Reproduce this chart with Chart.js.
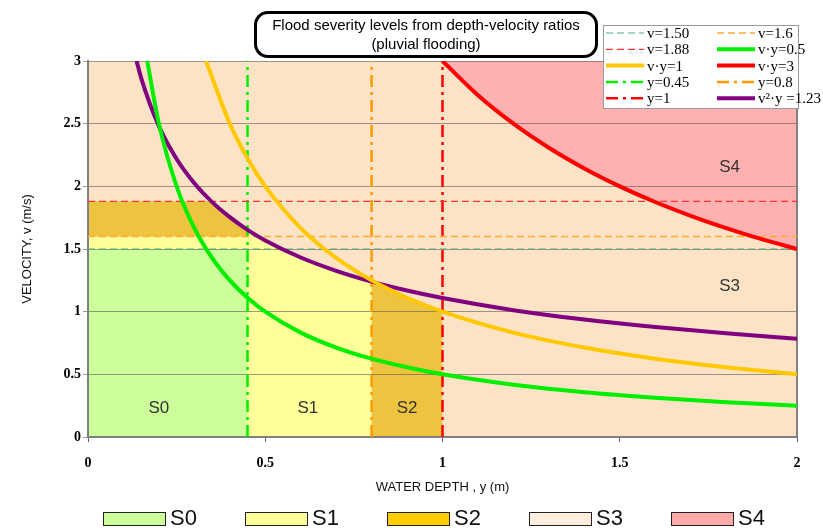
<!DOCTYPE html>
<html>
<head>
<meta charset="utf-8">
<script src="https://cdn.jsdelivr.net/npm/chart.js"></script>
<style>
  body { margin: 0; background: #fff; }
  #wrap { position: relative; width: 823px; height: 532px; }
  #title {
    position: absolute; left: 254px; top: 11px; width: 338px; height: 40px;
    border: 3px solid #000; border-radius: 14px; background: #fff;
    font: 15px 'Liberation Sans', Arial, sans-serif; color: #000;
    text-align: center; line-height: 19px; padding-top: 1px;
  }
  .key { position: absolute; top: 510px; height: 20px; font: 22px 'Liberation Sans', Arial, sans-serif; color: #111; }
  .key span.box { position: absolute; left: 0; top: 2px; width: 61px; height: 12px; border: 1.5px solid #222; }
  .key span.txt { position: absolute; left: 67px; top: -5px; line-height: 26px; }
</style>
</head>
<body>
<div id="wrap">
  <canvas id="myChart" width="823" height="532"></canvas>
  <div id="title">Flood severity levels from depth-velocity ratios<br>(pluvial flooding)</div>
</div>
<script>
// curves (depth y in m, velocity v in m/s)
const depthVy05 = [0.167, 0.2, 0.25, 0.3, 0.35, 0.4, 0.45, 0.5, 0.6, 0.7, 0.8, 0.9, 1.0, 1.2, 1.4, 1.6, 1.8, 2.0];
const velVy05   = [3.0, 2.5, 2.0, 1.667, 1.429, 1.25, 1.111, 1.0, 0.833, 0.714, 0.625, 0.556, 0.5, 0.417, 0.357, 0.313, 0.278, 0.25];
const depthVy1  = [0.333, 0.4, 0.45, 0.5, 0.6, 0.7, 0.8, 0.9, 1.0, 1.2, 1.4, 1.6, 1.8, 2.0];
const velVy1    = [3.0, 2.5, 2.222, 2.0, 1.667, 1.429, 1.25, 1.111, 1.0, 0.833, 0.714, 0.625, 0.556, 0.5];
const depthVy3  = [1.0, 1.1, 1.2, 1.3, 1.4, 1.5, 1.6, 1.7, 1.8, 1.9, 2.0];
const velVy3    = [3.0, 2.727, 2.5, 2.308, 2.143, 2.0, 1.875, 1.765, 1.667, 1.579, 1.5];
const depthV2y  = [0.137, 0.15, 0.2, 0.25, 0.3, 0.348, 0.4, 0.45, 0.5, 0.6, 0.7, 0.8, 0.9, 1.0, 1.2, 1.4, 1.6, 1.8, 2.0];
const velV2y    = [3.0, 2.864, 2.48, 2.218, 2.025, 1.88, 1.754, 1.653, 1.568, 1.432, 1.326, 1.24, 1.169, 1.109, 1.012, 0.937, 0.877, 0.827, 0.784];

// threshold lines
const velLimits   = [1.5, 1.6, 1.88];
const depthLimits = [0.45, 0.8, 1.0];

// region outlines
const s0Depth = [0, 0.45];
const s0Vel   = [1.5, 1.5];
const s1Depth = [0, 0.45, 0.45, 0.5, 0.6, 0.7, 0.8];
const s1Vel   = [1.6, 1.6, 1.653, 1.568, 1.432, 1.326, 1.24];
const s2BandDepth = [0, 0.348, 0.4, 0.45, 0.45];
const s2BandVel   = [1.88, 1.88, 1.754, 1.653, 1.6];
const s2LowDepth  = [0.8, 0.9, 1.0];
const s2LowVel    = [1.25, 1.111, 1.0];
const s3Depth = [0, 2];
const s3Vel   = [3, 3];

const regionNames  = ['S0', 'S1', 'S2', 'S3', 'S4'];
const regionFill   = ['#CCFF99', '#FFFF99', '#EDC33F', '#FDE3C5', '#FFB0B0'];
const regionKey    = ['#CCFF99', '#FFFF99', '#FFCC00', '#FFEEDD', '#FFAAAA'];
const regionLabelX = [0.2, 0.62, 0.9, 1.81, 1.81];
const regionLabelY = [0.23, 0.23, 0.23, 1.2, 2.15];

const pts = (xs, ys) => xs.map((x, i) => ({ x: x, y: ys[i] }));
const hLine = v => [{ x: 0, y: v }, { x: 2, y: v }];
const vLine = d => [{ x: d, y: 0 }, { x: d, y: 3 }];

const dashed = [7, 4];
const dashDot = [12, 5, 3, 5];

const curve = (label, data, color) => ({
  label: label, data: data, borderColor: color, borderWidth: 4, fill: false,
  cubicInterpolationMode: 'monotone', pointRadius: 0, order: 0
});
const straight = (label, data, color, w, dash) => ({
  label: label, data: data, borderColor: color, borderWidth: w, borderDash: dash,
  fill: false, pointRadius: 0, order: 1
});
const region = (data, color, fill, order) => ({
  data: data, borderWidth: 0, borderColor: 'rgba(0,0,0,0)', backgroundColor: color,
  fill: fill, pointRadius: 0, order: order
});

const redCurve = curve('v·y=3', pts(depthVy3, velVy3), '#FF0000');
redCurve.fill = 'end';
redCurve.backgroundColor = regionFill[4];

const datasets = [
  straight('v=1.50', hLine(velLimits[0]), '#4FAE80', 1.2, dashed),
  straight('v=1.6', hLine(velLimits[1]), '#FFAA33', 1.5, dashed),
  straight('v=1.88', hLine(velLimits[2]), '#FF3333', 1.2, dashed),
  curve('v·y=0.5', pts(depthVy05, velVy05), '#00EE00'),
  curve('v·y=1', pts(depthVy1, velVy1), '#FFC800'),
  redCurve,
  straight('y=0.45', vLine(depthLimits[0]), '#00EE00', 2.5, dashDot),
  straight('y=0.8', vLine(depthLimits[1]), '#FF9900', 2.5, dashDot),
  straight('y=1', vLine(depthLimits[2]), '#FF0000', 2.5, dashDot),
  curve('v²·y =1.23', pts(depthV2y, velV2y), '#800080'),
  region(pts(s0Depth, s0Vel), regionFill[0], 'origin', 4),
  region(pts(s2BandDepth, s2BandVel), regionFill[2], { value: 1.6 }, 4),
  region(pts(s2LowDepth, s2LowVel), regionFill[2], 'origin', 4),
  region(pts(s1Depth, s1Vel), regionFill[1], 'origin', 5),
  region(pts(s3Depth, s3Vel), regionFill[3], 'origin', 10)
];

const overlay = {
  id: 'overlay',
  afterDatasetsDraw(chart) {
    const ctx = chart.ctx, xs = chart.scales.x, ys = chart.scales.y;
    ctx.save();
    ctx.font = '17px "Liberation Sans", Arial, sans-serif';
    ctx.fillStyle = '#333';
    ctx.textAlign = 'center';
    ctx.textBaseline = 'middle';
    regionNames.forEach((n, i) => {
      ctx.fillText(n, xs.getPixelForValue(regionLabelX[i]), ys.getPixelForValue(regionLabelY[i]));
    });
    ctx.restore();
  },
  afterDraw(chart) {
    const ctx = chart.ctx;
    const items = chart.data.datasets.filter(d => d.label);
    ctx.save();
    ctx.fillStyle = '#fff';
    ctx.fillRect(603, 25, 195, 83);
    ctx.strokeStyle = '#999';
    ctx.lineWidth = 1;
    ctx.strokeRect(603.5, 25.5, 195, 83);
    ctx.font = '15px "Liberation Serif", "Times New Roman", serif';
    ctx.textBaseline = 'middle';
    items.forEach((d, i) => {
      const x0 = i % 2 ? 717 : 606;
      const y = 33 + Math.floor(i / 2) * 16.3;
      ctx.strokeStyle = d.borderColor;
      ctx.lineWidth = d.borderWidth;
      ctx.setLineDash(d.borderDash || []);
      ctx.beginPath();
      ctx.moveTo(x0, y);
      ctx.lineTo(x0 + 38, y);
      ctx.stroke();
      ctx.setLineDash([]);
      ctx.fillStyle = '#000';
      ctx.fillText(d.label, x0 + 41, y + 1);
    });
    ctx.restore();
  }
};

const tickFont = { family: '"Liberation Serif", "Times New Roman", serif', size: 14, weight: 'bold' };
const titleFont = { family: '"Liberation Sans", Arial, sans-serif', size: 13 };
const plainNum = v => String(Math.round(v * 10) / 10);

const myChart = new Chart(document.getElementById('myChart'), {
  type: 'line',
  data: { datasets: datasets },
  options: {
    responsive: false,
    animation: false,
    events: [],
    layout: { padding: { left: 0, top: 61, right: 26, bottom: 0 } },
    plugins: {
      legend: { display: false },
      tooltip: { enabled: false },
      filler: { drawTime: 'beforeDraw' }
    },
    scales: {
      x: {
        type: 'linear', min: 0, max: 2,
        ticks: { stepSize: 0.5, color: '#000', font: tickFont, padding: 13, maxRotation: 0, callback: plainNum },
        grid: { drawOnChartArea: false, drawTicks: true, tickLength: 5, color: '#666' },
        border: { color: '#808080', width: 2 },
        title: { display: true, text: 'WATER DEPTH , y (m)', color: '#111', font: titleFont, padding: { top: 0, bottom: 37 } },
        afterFit: s => { s.height = 95; }
      },
      y: {
        type: 'linear', min: 0, max: 3,
        ticks: { stepSize: 0.5, color: '#000', font: tickFont, padding: 2, callback: plainNum },
        grid: { color: 'rgba(90,90,90,0.6)', lineWidth: 1, tickLength: 5 },
        border: { color: '#808080', width: 2 },
        title: { display: true, text: 'VELOCITY, v (m/s)', color: '#111', font: titleFont, padding: { top: 20, bottom: 0 } },
        afterFit: s => { s.width = 88; }
      },
      yR: {
        type: 'linear', position: 'right', min: 0, max: 3,
        ticks: { display: false },
        grid: { drawOnChartArea: false, drawTicks: false, color: 'rgba(0,0,0,0)' },
        border: { display: true, color: '#808080', width: 2 },
        afterFit: s => { s.width = 0; }
      }
    }
  },
  plugins: [overlay]
});

// bottom key
const wrap = document.getElementById('wrap');
regionNames.forEach((n, i) => {
  const el = document.createElement('div');
  el.className = 'key';
  el.style.left = (103 + i * 142) + 'px';
  el.innerHTML = '<span class="box" style="background:' + regionKey[i] + '"></span><span class="txt">' + n + '</span>';
  wrap.appendChild(el);
});
</script>
</body>
</html>
